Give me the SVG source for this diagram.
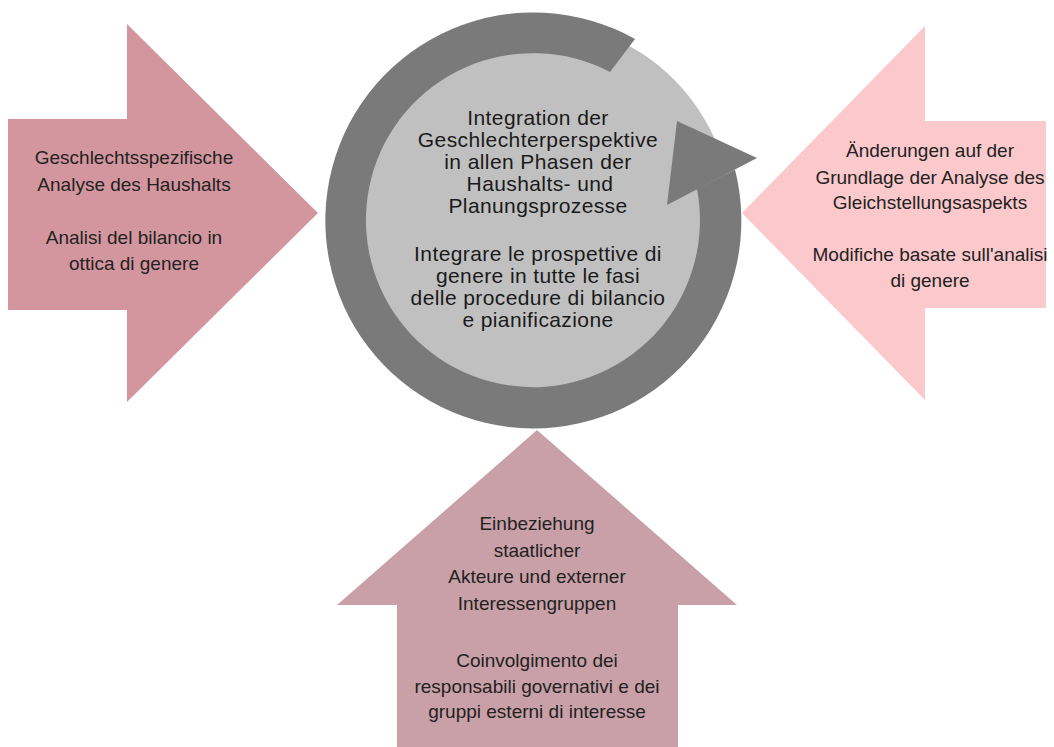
<svg xmlns="http://www.w3.org/2000/svg" width="1054" height="747" viewBox="0 0 1054 747">
<style>
  .t { font-family: "Liberation Sans", Arial, sans-serif; fill: #222; text-anchor: middle; }
  .side { font-size: 19px; }
  .mid { font-size: 21px; letter-spacing: 0.4px; fill: #1a1a1a; }
  .ring { fill: #7a7a7a; }
</style>
<rect width="1054" height="747" fill="#ffffff"/>
<g id="left-arrow">
  <polygon points="8,119 127,119 127,24 318,213 127,402 127,310 8,310" fill="#d4969e"/>
  <text class="t side" x="134" y="164">Geschlechtsspezifische</text>
  <text class="t side" x="134" y="191">Analyse des Haushalts</text>
  <text class="t side" x="134" y="244">Analisi del bilancio in</text>
  <text class="t side" x="134" y="270">ottica di genere</text>
</g>
<g id="right-arrow">
  <polygon points="1046,121 925,121 925,26 742,213 925,400 925,308 1046,308" fill="#fbc9cb"/>
  <text class="t side" x="930" y="157">Änderungen auf der</text>
  <text class="t side" x="930" y="184">Grundlage der Analyse des</text>
  <text class="t side" x="930" y="209">Gleichstellungsaspekts</text>
  <text class="t side" x="930" y="261">Modifiche basate sull'analisi</text>
  <text class="t side" x="930" y="287">di genere</text>
</g>
<g id="bottom-arrow">
  <polygon points="397,747 397,605 337,605 537,430 737,605 678,605 678,747" fill="#c9a0a7"/>
  <text class="t side" x="537" y="530">Einbeziehung</text>
  <text class="t side" x="537" y="557">staatlicher</text>
  <text class="t side" x="537" y="583">Akteure und externer</text>
  <text class="t side" x="537" y="610">Interessengruppen</text>
  <text class="t side" x="537" y="667">Coinvolgimento dei</text>
  <text class="t side" x="537" y="693">responsabili governativi e dei</text>
  <text class="t side" x="537" y="718">gruppi esterni di interesse</text>
</g>
<g id="center-cycle">
  <circle cx="533" cy="220" r="199" fill="#c0c0c0"/>
  <path class="ring" d="M 635 39 A 208 208 0 1 0 735 169.5 L 697 189 A 167 167 0 1 1 610 72 Z"/>
  <polygon class="ring" points="677,121 757,158 667,205"/>
  <text class="t mid" x="538" y="125">Integration der</text>
  <text class="t mid" x="538" y="147">Geschlechterperspektive</text>
  <text class="t mid" x="538" y="169">in allen Phasen der</text>
  <text class="t mid" x="540" y="191">Haushalts- und</text>
  <text class="t mid" x="538" y="213">Planungsprozesse</text>
  <text class="t mid" x="538" y="261">Integrare le prospettive di</text>
  <text class="t mid" x="538" y="283">genere in tutte le fasi</text>
  <text class="t mid" x="538" y="305">delle procedure di bilancio</text>
  <text class="t mid" x="538" y="327">e pianificazione</text>
</g>
<g id="connectors"></g>
</svg>
